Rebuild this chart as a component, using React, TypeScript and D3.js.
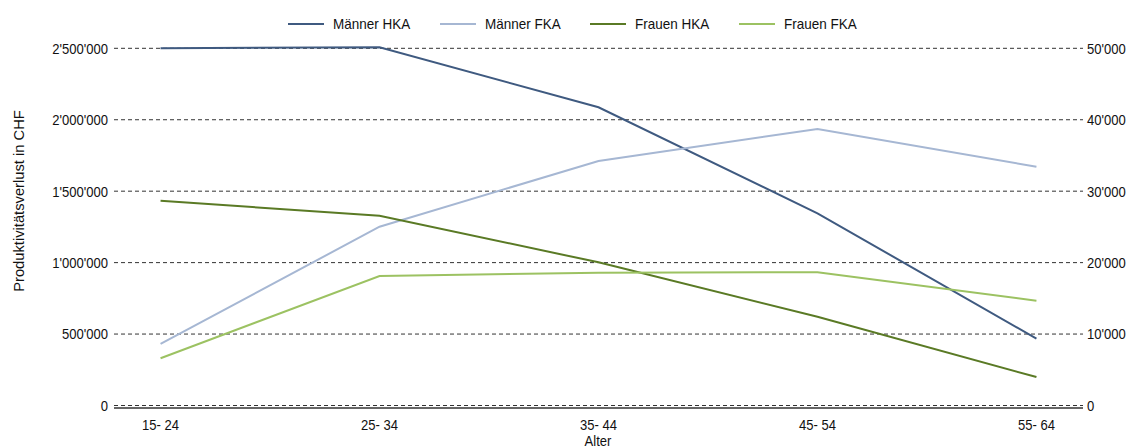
import React from "react";
import * as d3 from "d3";

const categories = ["15- 24", "25- 34", "35- 44", "45- 54", "55- 64"];
const maennerHKA = [2500000, 2507000, 2087000, 1345000, 468000];
const frauenHKA = [1433000, 1328000, 1002000, 621000, 199000];
const maennerFKA = [8610, 25030, 34230, 38710, 33430];
const frauenFKA = [6610, 18130, 18590, 18650, 14670];
const leftTicks = [0, 500000, 1000000, 1500000, 2000000, 2500000];
const rightTicks = [0, 10000, 20000, 30000, 40000, 50000];

const seriesNames = ["Männer HKA", "Männer FKA", "Frauen HKA", "Frauen FKA"];
const colors = ["#3f5a80", "#a6b7d3", "#5a7a25", "#9cc262"];

const W = 1134, H = 448;
const left = 114, right = 1083, top = 48.3, bottom = 405.5;
const FONT = "'Liberation Sans', Arial, sans-serif";

const fmt = (v: number) => d3.format(",")(v).replace(/,/g, "'");

function T({ x, y, anchor = "start", rotate = 0, children, dy = "0", sx = 0.87, size = 15 }: any) {
  return (
    <text
      transform={`translate(${x},${y}) rotate(${rotate}) scale(${sx},1)`}
      textAnchor={anchor}
      dy={dy}
      fontSize={size}
      fill="#111"
    >
      {children}
    </text>
  );
}

export default function App() {
  const x = d3.scalePoint<string>().domain(categories).range([left, right]).padding(0.2126);
  const yL = d3.scaleLinear().domain([0, 2500000]).range([bottom, top]);
  const yR = d3.scaleLinear().domain([0, 50000]).range([bottom, top]);
  const lineL = d3.line<number>().x((_, i) => x(categories[i])!).y((d) => yL(d));
  const lineR = d3.line<number>().x((_, i) => x(categories[i])!).y((d) => yR(d));

  const series = [
    { name: seriesNames[0], d: lineL(maennerHKA), c: colors[0] },
    { name: seriesNames[1], d: lineR(maennerFKA), c: colors[1] },
    { name: seriesNames[2], d: lineL(frauenHKA), c: colors[2] },
    { name: seriesNames[3], d: lineR(frauenFKA), c: colors[3] },
  ];
  const legendX = [288, 440, 590, 739];

  return (
    <svg width={W} height={H} style={{ display: "block", position: "absolute", left: 0, top: 0 }} fontFamily={FONT}>
      <rect width={W} height={H} fill="#fff" />
      {leftTicks.map((t) => (
        <g key={t}>
          <line x1={left} x2={right} y1={yL(t)} y2={yL(t)} stroke="#333" strokeDasharray="4,3" strokeWidth={1} />
          <T x={108} y={yL(t)} dy="0.36em" anchor="end">{fmt(t)}</T>
        </g>
      ))}
      {rightTicks.map((t) => (
        <T key={t} x={1087} y={yR(t)} dy="0.36em">{fmt(t)}</T>
      ))}
      <line x1={left} x2={right} y1={408} y2={408} stroke="#333" strokeWidth={1.5} />
      {categories.map((c) => (
        <T key={c} x={x(c)!} y={430} anchor="middle">{c}</T>
      ))}
      <T x={598} y={446} anchor="middle">Alter</T>
      <T x={24} y={201} rotate={-90} anchor="middle" sx={0.95} size={15.5}>Produktivitätsverlust in CHF</T>
      {series.map((s) => (
        <path key={s.name} d={s.d!} fill="none" stroke={s.c} strokeWidth={2} />
      ))}
      {series.map((s, i) => (
        <g key={s.name}>
          <line x1={legendX[i]} x2={legendX[i] + 36} y1={24} y2={24} stroke={s.c} strokeWidth={2} />
          <T x={legendX[i] + 45} y={24} dy="0.36em" sx={0.9}>{s.name}</T>
        </g>
      ))}
    </svg>
  );
}
